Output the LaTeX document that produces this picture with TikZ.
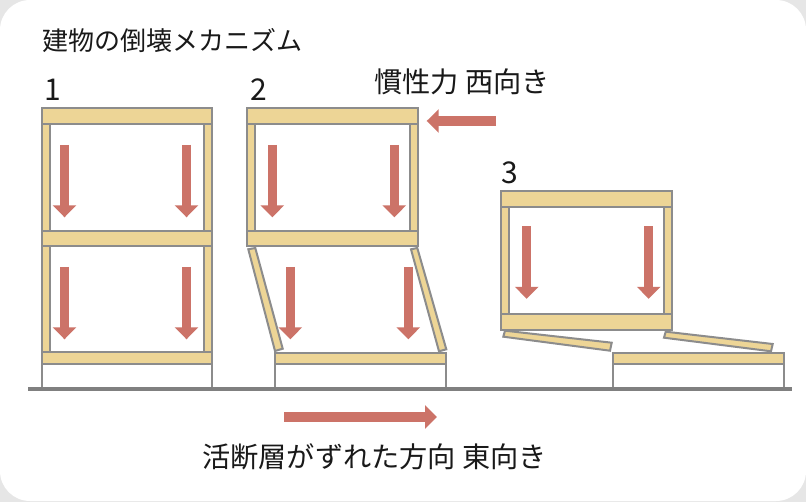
\documentclass[tikz,border=0pt]{standalone}
\usepackage{fontspec}
\setmainfont{Noto Sans CJK JP}
\usetikzlibrary{arrows.meta}
\definecolor{timberFill}{HTML}{EDD596}
\definecolor{frameGray}{HTML}{8C8C8C}
\definecolor{forceRed}{HTML}{CC7368}
\definecolor{cornerGray}{HTML}{E6E6E6}
\tikzset{
  timber/.style={draw=frameGray,fill=timberFill,line width=2pt},
  footing/.style={draw=frameGray,line width=2pt},
  force/.style={draw=forceRed,line width=9.5pt,-{Triangle[width=23pt,length=12pt]}},
  caption/.style={anchor=base west,inner sep=0pt,font=\fontsize{26}{26}\selectfont,text=black!90},
  bigcaption/.style={caption,font=\fontsize{28.2}{28}\selectfont},
  storeyno/.style={anchor=base west,inner sep=0pt,font=\fontsize{30}{30}\selectfont,text=black!90}
}
\newcommand{\storey}[4]{% left, right, top, bottom of a storey's columns
  \draw[timber] (#1,#3) rectangle (#1+8,#4);
  \draw[timber] (#2-8,#3) rectangle (#2,#4);
}
\begin{document}
\begin{tikzpicture}[x=1pt,y=-1pt]
\useasboundingbox (0,0) rectangle (806,502);
\fill[cornerGray] (0,0) rectangle (806,502);
\fill[white,rounded corners=30pt] (0,0) rectangle (806,501);
% text
\node[caption] (title) at (42,51) {建物の倒壊メカニズム};
\node[bigcaption] (inertia) at (374,93) {慣性力 西向き};
\node[bigcaption] (fault) at (202,467) {活断層がずれた方向 東向き};
\node[storeyno] (no1) at (44,101) {1};
\node[storeyno] (no2) at (250,101) {2};
\node[storeyno] (no3) at (501,184) {3};
% building 1
\storey{41.5}{212}{124}{231}
\storey{41.5}{212}{246}{352.5}
\draw[timber] (41.5,108) rectangle (212,124);
\draw[timber] (41.5,231) rectangle (212,246);
\draw[timber] (41.5,352.5) rectangle (212,364.5);
\draw[footing] (41.5,388) -- (41.5,364.5) (212,364.5) -- (212,388);
% building 2
\storey{247}{418}{124}{231}
\draw[timber] (247,108) rectangle (418,124);
\draw[timber] (247,231) rectangle (418,246.5);
\draw[timber] (248.3,249.3) -- (255.3,248) -- (282.7,348.7) -- (275,351) -- cycle;
\draw[timber] (411,249.3) -- (417.3,248) -- (446.3,349.3) -- (439,351.3) -- cycle;
\draw[timber] (274.5,352.7) rectangle (445.5,364.5);
\draw[footing] (274.5,388) -- (274.5,364.5) (445.5,364.5) -- (445.5,388);
% building 3
\storey{501.3}{672.3}{207.3}{314.5}
\draw[timber] (501.3,191.5) rectangle (672.3,207.3);
\draw[timber] (501.3,314.5) rectangle (672.3,330);
\draw[timber] (505,330.7) -- (503.3,336.7) -- (610,350.7) -- (611.7,342.7) -- cycle;
\draw[timber] (665.7,331.7) -- (664,337.7) -- (771,351.3) -- (772.7,344) -- cycle;
\draw[timber] (613,352.7) rectangle (784,364.5);
\draw[footing] (613,388) -- (613,364.5) (784,364.5) -- (784,388);
% ground
\fill[black!50] (28,387) rectangle (792,391);
% forces
\foreach \fx/\fy in {64.5/145,186.5/145,64.5/267,186.5/267,272.3/145,394.3/145,290.3/267,408.3/267,526.7/226.5,648.7/226.5}
  \draw[force] (\fx,\fy) -- (\fx,\fy+72.3);
\draw[force] (496,121) -- (426.7,121);
\draw[force] (284.3,417) -- (437,417);
\end{tikzpicture}
\end{document}
